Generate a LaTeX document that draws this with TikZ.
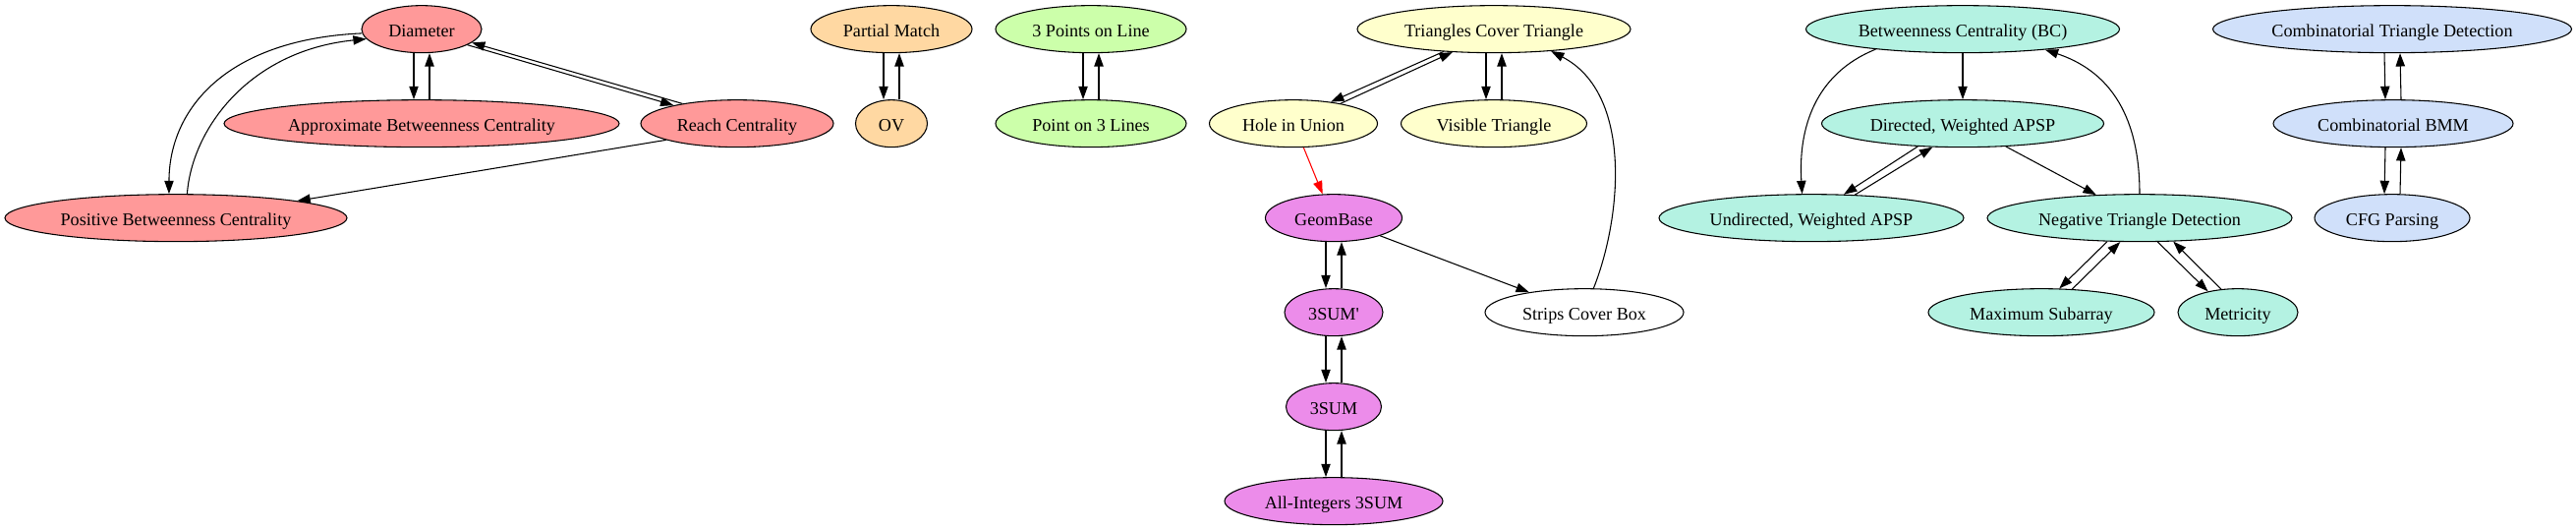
\documentclass[tikz,border=0pt]{standalone}
\usepackage{fontspec}
\setmainfont{Liberation Serif}
\usetikzlibrary{shapes.geometric, arrows.meta}

\definecolor{diamRed}{RGB}{255,153,153}
\definecolor{ovPeach}{RGB}{255,216,162}
\definecolor{lineGreen}{RGB}{204,255,170}
\definecolor{triYellow}{RGB}{255,255,204}
\definecolor{sumViolet}{RGB}{236,140,234}
\definecolor{apspTeal}{RGB}{180,242,226}
\definecolor{bmmBlue}{RGB}{208,224,250}

\begin{document}
\begin{tikzpicture}[
        x=1pt, y=1pt,
        font=\fontsize{13.6}{16}\selectfont,
        prob/.style={ellipse, draw, line width=0.8pt, inner sep=0pt, minimum height=36pt, text height=11.6pt, text depth=0pt},
        probDiam/.style={prob, fill=diamRed},
        probOV/.style={prob, fill=ovPeach},
        probLine/.style={prob, fill=lineGreen},
        probTri/.style={prob, fill=triYellow},
        probSum/.style={prob, fill=sumViolet},
        probApsp/.style={prob, fill=apspTeal},
        probBmm/.style={prob, fill=bmmBlue},
        arr/.style={line width=0.8pt, -{Triangle[length=10pt, width=7pt]}}
    ]

        \useasboundingbox (0,0) rectangle (1965.75,404.25);

        % ========================================================
        % DIAMETER
        % ========================================================
        \node[probDiam, minimum width=91.5pt] (diam) at (321.75, 382) {Diameter};
        \node[probDiam, minimum width=301.5pt] (approxBC) at (321.75, 310) {Approximate Betweenness Centrality};
        \node[probDiam, minimum width=147pt] (reach) at (562.5, 310) {Reach Centrality};
        \node[probDiam, minimum width=261pt] (posBC) at (134.25, 238) {Positive Betweenness Centrality};

        \draw[arr] ([xshift=-6pt]diam.south) -- ([xshift=-6pt]approxBC.north);
        \draw[arr] ([xshift=6pt]approxBC.north) -- ([xshift=6pt]diam.south);
        \draw[arr] (diam.341) -- (reach.164);
        \draw[arr] (reach.160) -- (diam.345);
        \draw[arr] (reach.193) -- (posBC.8);
        \draw[arr] (diam.184) .. controls +(-103,-4.5) and +(0,65) .. (posBC.106);
        \draw[arr] (posBC.65) .. controls +(3.75,50) and +(-89,-9) .. (diam.190);

        % ========================================================
        % OV
        % ========================================================
        \node[probOV, minimum width=123pt] (pmatch) at (680.25, 382) {Partial Match};
        \node[probOV, minimum width=54.75pt] (ov) at (680.25, 310) {OV};

        \draw[arr] ([xshift=-6pt]pmatch.south) -- ([xshift=-6pt]ov.north);
        \draw[arr] ([xshift=6pt]ov.north) -- ([xshift=6pt]pmatch.south);

        % ========================================================
        % POINTS AND LINES
        % ========================================================
        \node[probLine, minimum width=145.5pt] (ptsLine) at (832.5, 382) {3 Points on Line};
        \node[probLine, minimum width=145.5pt] (ptLines) at (832.5, 310) {Point on 3 Lines};

        \draw[arr] ([xshift=-6pt]ptsLine.south) -- ([xshift=-6pt]ptLines.north);
        \draw[arr] ([xshift=6pt]ptLines.north) -- ([xshift=6pt]ptsLine.south);

        % ========================================================
        % GEOMETRY / 3SUM
        % ========================================================
        \node[probTri, minimum width=208.5pt] (triCover) at (1140, 382) {Triangles Cover Triangle};
        \node[probTri, minimum width=128.25pt] (holeUnion) at (987, 310) {Hole in Union};
        \node[probTri, minimum width=141.75pt] (visTri) at (1140, 310) {Visible Triangle};
        \node[probSum, minimum width=104.25pt] (geomBase) at (1017.75, 238) {GeomBase};
        \node[probSum, minimum width=75pt] (sumPrime) at (1017.75, 166) {3SUM\textquotesingle};
        \node[prob, fill=white, minimum width=151.5pt] (strips) at (1209, 166) {Strips Cover Box};
        \node[probSum, minimum width=72.75pt] (threeSum) at (1017.75, 94) {3SUM};
        \node[probSum, minimum width=166.5pt] (intSum) at (1017.75, 22) {All-Integers 3SUM};

        \draw[arr] (triCover.204) -- (holeUnion.30);
        \draw[arr] (holeUnion.23) -- (triCover.209);
        \draw[arr] ([xshift=-6pt]triCover.south) -- ([xshift=-6pt]visTri.north);
        \draw[arr] ([xshift=6pt]visTri.north) -- ([xshift=6pt]triCover.south);
        \draw[arr, red] (holeUnion.293) -- (geomBase.115);
        \draw[arr] (geomBase.339) -- (strips.160);
        \draw[arr] (strips.69) .. controls +(21.75,54.75) and +(62.25,-32.25) .. (triCover.339);
        \draw[arr] ([xshift=-6pt]geomBase.south) -- ([xshift=-6pt]sumPrime.north);
        \draw[arr] ([xshift=6pt]sumPrime.north) -- ([xshift=6pt]geomBase.south);
        \draw[arr] ([xshift=-6pt]sumPrime.south) -- ([xshift=-6pt]threeSum.north);
        \draw[arr] ([xshift=6pt]threeSum.north) -- ([xshift=6pt]sumPrime.south);
        \draw[arr] ([xshift=-6pt]threeSum.south) -- ([xshift=-6pt]intSum.north);
        \draw[arr] ([xshift=6pt]intSum.north) -- ([xshift=6pt]threeSum.south);

        % ========================================================
        % APSP
        % ========================================================
        \node[probApsp, minimum width=239.25pt] (bc) at (1497.75, 382) {Betweenness Centrality (BC)};
        \node[probApsp, minimum width=215.25pt] (dirAPSP) at (1497.75, 310) {Directed, Weighted APSP};
        \node[probApsp, minimum width=232.5pt] (undirAPSP) at (1382.25, 238) {Undirected, Weighted APSP};
        \node[probApsp, minimum width=232.5pt] (negTri) at (1632.75, 238) {Negative Triangle Detection};
        \node[probApsp, minimum width=172.5pt] (maxSub) at (1557.75, 166) {Maximum Subarray};
        \node[probApsp, minimum width=91.5pt] (metricity) at (1707.75, 166) {Metricity};

        \draw[arr] (bc.south) -- (dirAPSP.north);
        \draw[arr] (bc.193) .. controls +(-46.5,-18.75) and +(-3,50) .. (undirAPSP.111);
        \draw[arr] (dirAPSP.207) -- (undirAPSP.36);
        \draw[arr] (undirAPSP.28) -- (dirAPSP.218);
        \draw[arr] (dirAPSP.332) -- (negTri.152);
        \draw[arr] (negTri.north) .. controls +(0,65) and +(45,-15) .. (bc.346);
        \draw[arr] (negTri.216) -- (maxSub.53);
        \draw[arr] (maxSub.37) -- (negTri.231);
        \draw[arr] (negTri.307) -- (metricity.145);
        \draw[arr] (metricity.126) -- (negTri.325);

        % ========================================================
        % BMM
        % ========================================================
        \node[probBmm, minimum width=273.75pt] (combTri) at (1825.5, 382) {Combinatorial Triangle Detection};
        \node[probBmm, minimum width=183pt] (combBMM) at (1826.25, 310) {Combinatorial BMM};
        \node[probBmm, minimum width=118.5pt] (cfg) at (1825.5, 238) {CFG Parsing};

        \draw[arr] ([xshift=-6pt]combTri.south) -- ([xshift=-6pt]combBMM.north);
        \draw[arr] ([xshift=6pt]combBMM.north) -- ([xshift=6pt]combTri.south);
        \draw[arr] ([xshift=-6pt]combBMM.south) -- ([xshift=-6pt]cfg.north);
        \draw[arr] ([xshift=6pt]cfg.north) -- ([xshift=6pt]combBMM.south);

    \end{tikzpicture}
\end{document}
